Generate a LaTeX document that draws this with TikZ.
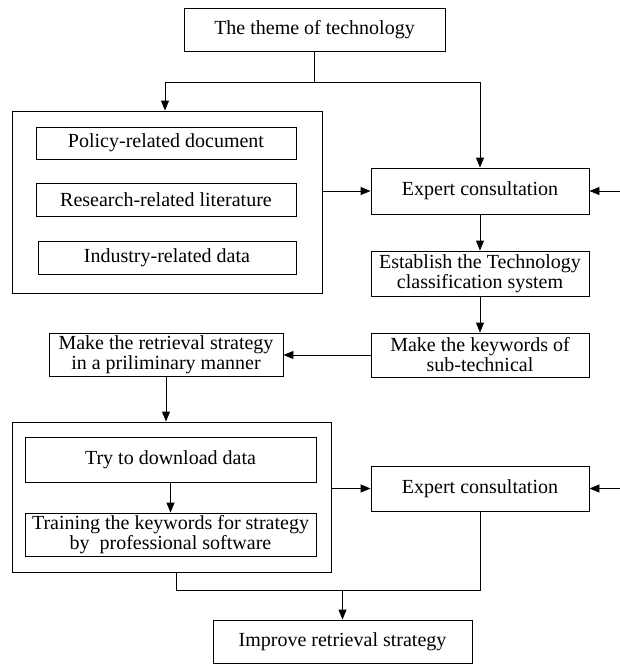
\documentclass[tikz,border=0pt]{standalone}
\usepackage{fontspec}
\setmainfont{Liberation Serif}
\usetikzlibrary{arrows.meta,calc}
\begin{document}
\begin{tikzpicture}[x=1pt,y=-1pt,
  every node/.style={font=\fontsize{20}{20}\selectfont},
  box/.style={draw,line width=0.9pt,inner sep=0pt,align=center},
  ln/.style={line width=0.9pt},
  arr/.style={line width=0.9pt,-{Triangle[length=10pt,width=8pt]}}]
\useasboundingbox (0,0) rectangle (620,664);
% nodes
\node[box,minimum width=261,minimum height=43] (theme) at (314.5,29.5) {The theme of technology};
\node[box,minimum width=310,minimum height=182] (big1) at (167,202) {};
\node[box,minimum width=260,minimum height=32] (policy) at (166,143) {Policy-related document};
\node[box,minimum width=260,minimum height=33] (research) at (166,199.5) {Research-related literature};
\node[box,minimum width=258,minimum height=33] (industry) at (167,257.5) {Industry-related data};
\node[box,minimum width=218,minimum height=46] (expert1) at (480,191) {Expert consultation};
\node[box,minimum width=218,minimum height=45] (establish) at (480,273.5) {Establish the Technology\\classification system};
\node[box,minimum width=218,minimum height=44] (keywords) at (480,355) {Make the keywords of\\sub-technical};
\node[box,minimum width=234,minimum height=43] (retrieval) at (166,354.5) {Make the retrieval strategy\\in a priliminary manner};
\node[box,minimum width=319,minimum height=150] (big2) at (171.5,497) {};
\node[box,minimum width=291,minimum height=45] (download) at (170.5,459.5) {Try to download data};
\node[box,minimum width=291,minimum height=43] (training) at (170.5,534.5) {Training the keywords for strategy\\by~~professional software};
\node[box,minimum width=218,minimum height=45] (expert2) at (480,488.5) {Expert consultation};
\node[box,minimum width=259,minimum height=43] (improve) at (342.5,641.5) {Improve retrieval strategy};
% coordinates
\coordinate (j1) at (314.5,82);
\coordinate (r1) at (620,191);
\coordinate (r2) at (620,488.5);
\coordinate (j2) at (342.5,590);
% connectors
\draw[ln] (theme.south) -- (j1);
\draw[arr] (j1) -| ($(big1.north)+(-2,0)$);
\draw[arr] (j1) -| (expert1.north);
\draw[arr] (big1.east |- expert1.west) -- (expert1.west);
\draw[arr] (r1) -- (expert1.east);
\draw[arr] (expert1.south) -- (establish.north);
\draw[arr] (establish.south) -- (keywords.north);
\draw[arr] (keywords.west) -- (keywords.west -| retrieval.east);
\draw[arr] (retrieval.south) -- (retrieval.south |- big2.north);
\draw[arr] (download.south) -- (training.north);
\draw[arr] (big2.east |- expert2.west) -- (expert2.west);
\draw[arr] (r2) -- (expert2.east);
\draw[ln] ($(big2.south)+(4.5,0)$) |- (expert2.south |- j2) -- (expert2.south);
\draw[arr] (j2) -- (improve.north);
\end{tikzpicture}
\end{document}
